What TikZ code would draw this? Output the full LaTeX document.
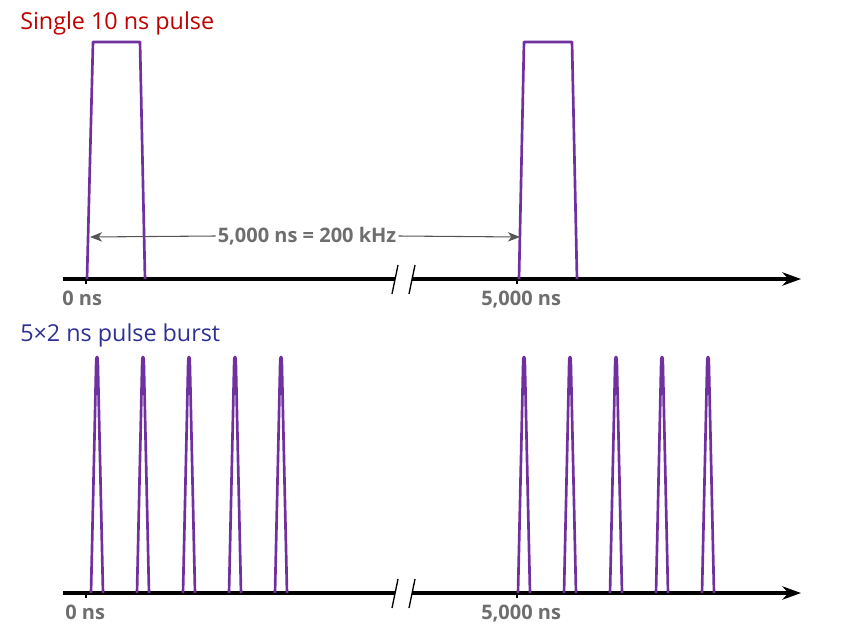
\documentclass[tikz,border=0pt]{standalone}
\usepackage{fontspec}
\setmainfont{Open Sans}
\usetikzlibrary{arrows.meta}
\definecolor{pulsec}{RGB}{112,48,160}
\definecolor{redt}{RGB}{192,0,0}
\definecolor{bluet}{RGB}{46,49,146}
\definecolor{grayt}{RGB}{110,110,110}
\definecolor{dimc}{RGB}{85,85,85}
\tikzset{
  pulseline/.style={draw=pulsec,line width=2pt,line join=round},
  axisline/.style={draw=black,line width=2.4pt},
  brk/.style={draw=black,line width=1pt},
  ticklab/.style={text=grayt,font=\fontsize{15}{17}\selectfont\bfseries,inner sep=0pt},
  titlelab/.style={font=\fontsize{17.5}{20}\selectfont,inner sep=0pt,anchor=base west},
  dimline/.style={draw=dimc,line width=0.8pt},
}
\newcommand{\narrowpulse}[2]{%
  \draw[pulseline] (#1-6,#2) -- (#1-0.8,360) .. controls (#1-0.3,356) and (#1+0.3,356) .. (#1+0.8,360) -- (#1+6,#2);}
\begin{document}
\begin{tikzpicture}[x=0.75pt,y=-0.75pt]
\useasboundingbox (0,0) rectangle (841,638);
% titles
\node[titlelab,text=redt] (t1) at (20,30) {Single 10 ns pulse};
\node[titlelab,text=bluet] (t2) at (20,341) {5×2 ns pulse burst};
% ---------- top axis
\coordinate (a1s) at (63,279);
\coordinate (a1b) at (395,279);
\coordinate (a1c) at (412,279);
\coordinate (a1e) at (801,279);
\draw[axisline] (a1s) -- (a1b);
\draw[axisline,-{Stealth[length=14pt,width=10pt]}] (a1c) -- (a1e);
\draw[brk] (392,294) -- (398,265);
\draw[brk] (409,294) -- (415,265);
\draw[line width=0.8pt] (86,279) -- (86,284);
\draw[line width=0.8pt] (517,279) -- (517,284);
\node[ticklab,anchor=north west] (l0a) at (62,291) {0 ns};
\node[ticklab,anchor=north west] (l5a) at (481,291) {5,000 ns};
% top pulses
\draw[pulseline] (87,279) -- (93,42) -- (140,42) -- (145,279);
\draw[pulseline] (519,279) -- (524,42) -- (572,42) -- (577,279);
% dimension
\coordinate (d1) at (90,237);
\coordinate (d2) at (520,237);
\node[text=grayt,font=\fontsize{15}{17}\selectfont\bfseries,inner sep=1.5pt,fill=white] (dl) at (307,236) {5,000 ns = 200 kHz};
\draw[dimline,-{Stealth[length=9pt,width=7pt,inset=2.5pt]}] (dl.west) -- (d1);
\draw[dimline,-{Stealth[length=9pt,width=7pt,inset=2.5pt]}] (dl.east) -- (d2);
% ---------- bottom axis
\coordinate (a2s) at (63,593);
\coordinate (a2b) at (395,593);
\coordinate (a2c) at (412,593);
\coordinate (a2e) at (801,593);
\draw[axisline] (a2s) -- (a2b);
\draw[axisline,-{Stealth[length=14pt,width=10pt]}] (a2c) -- (a2e);
\draw[brk] (392,608) -- (398,579);
\draw[brk] (409,608) -- (415,579);
\draw[line width=0.8pt] (86,593) -- (86,598);
\draw[line width=0.8pt] (517,593) -- (517,598);
\node[ticklab,anchor=north west] (l0b) at (65,605) {0 ns};
\node[ticklab,anchor=north west] (l5b) at (481,605) {5,000 ns};
% bottom pulses
\foreach \px in {97,143,189,235,281,524,570,616,662,708}{\narrowpulse{\px}{593}}
\end{tikzpicture}
\end{document}
